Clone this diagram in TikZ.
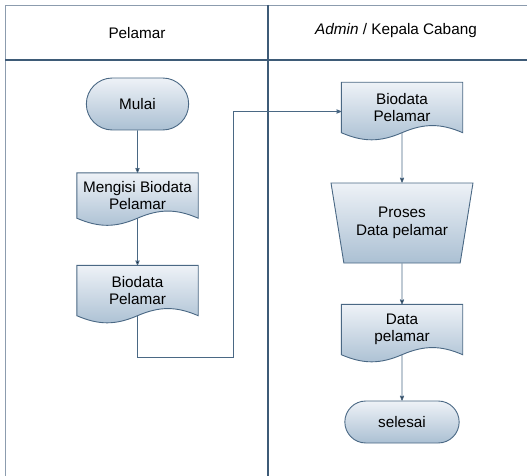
\documentclass[tikz,border=0pt]{standalone}
\usepackage{fontspec}
\setmainfont{Liberation Sans}
\usetikzlibrary{arrows,shapes.geometric,shapes.misc,positioning,backgrounds}
\definecolor{edgeblue}{HTML}{4A6884}
\definecolor{laneblue}{HTML}{3E5B77}
\definecolor{framegray}{HTML}{8C9CAE}
\definecolor{shtop}{HTML}{EEF2F7}
\definecolor{shbot}{HTML}{ABC0D3}
\tikzset{
    term/.style =   {rounded rectangle,
                    top color=shtop,
                    bottom color=shbot,
                    draw=edgeblue,
                    text=black,
                    line width=0.9pt},
    doc/.style =    {rectangle,
                    text=black,
                    align=center,
                    inner sep=0pt,
                    minimum width=121pt,
                    minimum height=50pt},
    docbody/.style = {insert path={(#1.north west) -- (#1.north east)
                    -- (#1.south east)
                    .. controls +(-22,-9.5) and +(22,-9.5) .. (#1.south)
                    .. controls +(-22,9.5) and +(22,9.5) .. (#1.south west)
                    -- cycle}},
    docfill/.style = {top color=shtop,
                    bottom color=shbot,
                    draw=edgeblue,
                    line width=0.9pt},
    proc/.style =   {trapezium,
                    shape border rotate=180,
                    trapezium stretches=true,
                    trapezium left angle=74,
                    trapezium right angle=74,
                    minimum width=142pt,
                    minimum height=80pt,
                    top color=shtop,
                    bottom color=shbot,
                    draw=edgeblue,
                    text=black,
                    align=center,
                    line width=0.9pt},
    head/.style =   {text=black},
    flow/.style =   {->,
                    draw=edgeblue,
                    line width=0.8pt},
    thinframe/.style = {draw=framegray, line width=0.8pt},
    laneline/.style  = {draw=laneblue, line width=1.6pt},
    >=stealth',
    font=\fontsize{15.3}{17.5}\selectfont}

\begin{document}
\begin{tikzpicture}[x=1pt,y=-1pt]
    \useasboundingbox (0,0) rectangle (527,476);
    % lajur
    \draw[thinframe] (527,5) -- (5,5) -- (5,476);
    \draw[laneline]  (5,60) -- (527,60);
    \draw[laneline]  (268,5) -- (268,476);
    \node[head] (hpel) at (137,33) {Pelamar};
    \node[head] (hadm) at (396,31) {\textit{Admin} / Kepala Cabang};
    % pelamar
    \node[term, minimum width=109pt, minimum height=52pt] (mulai) at (137.5,104) {Mulai};
    \node[doc, minimum height=45pt] (isi)   at (137.5,195.5) {Mengisi Biodata\\Pelamar};
    \node[doc]                      (bio1)  at (137.5,290.5) {Biodata\\Pelamar};
    % admin / kepala cabang
    \node[doc]  (bio2)   at (402,107.5) {Biodata\\Pelamar};
    \node[proc] (proses) at (402,223)   {Proses\\Data pelamar};
    \node[doc]  (data)   at (402,329.5) {Data\\pelamar};
    \node[term, minimum width=121pt, minimum height=42pt] (selesai) at (402,422) {selesai};
    % bentuk dokumen di belakang teks
    \begin{scope}[on background layer]
        \foreach \d in {isi,bio1,bio2,data}
            \path[docfill, docbody=\d];
    \end{scope}
    \coordinate (belok) at (233,357);
    \path [flow]    (mulai)  edge (isi)
                    (isi)    edge (bio1)
                    (bio2)   edge (proses)
                    (proses) edge (data)
                    (data)   edge (selesai);
    \draw [flow] (bio1.south) |- (belok) |- ([yshift=-4pt]bio2.west);
\end{tikzpicture}
\end{document}
